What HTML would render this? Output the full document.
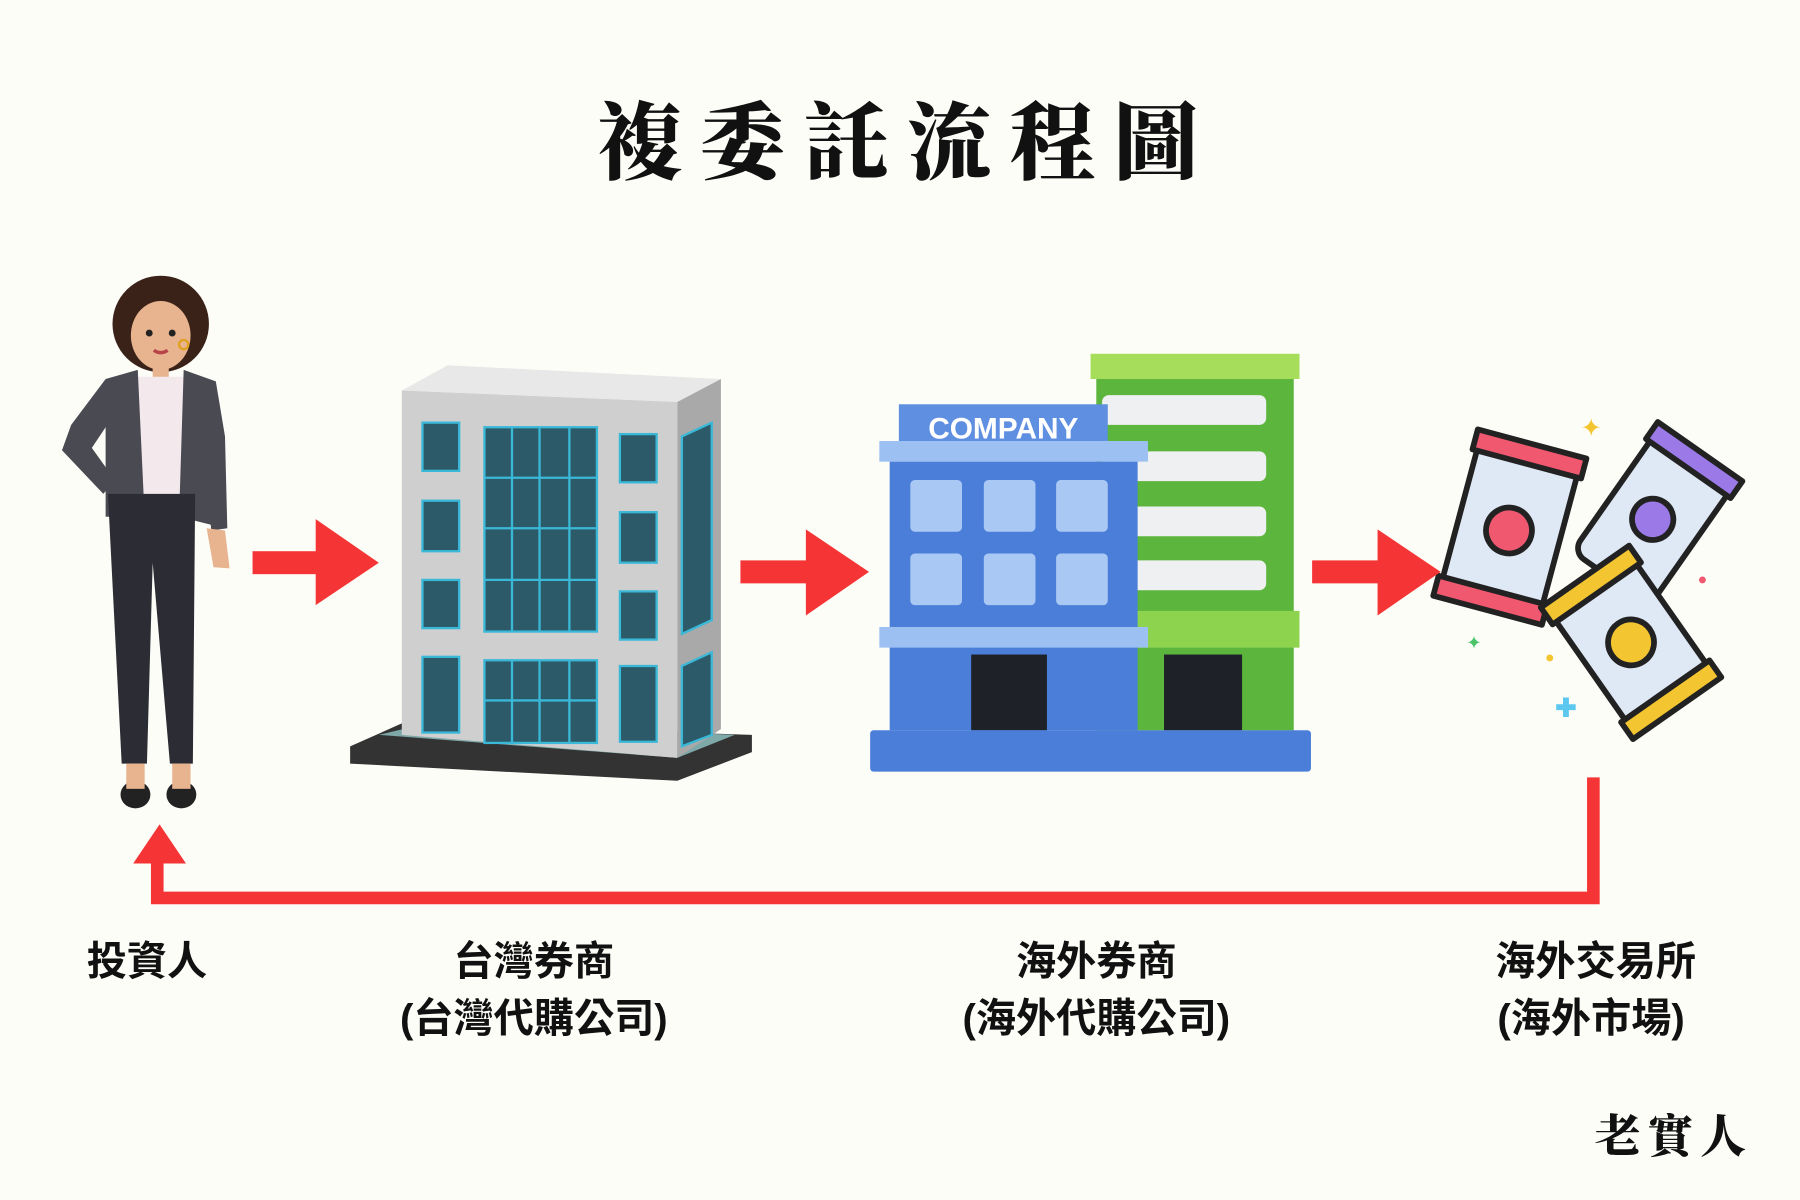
<!DOCTYPE html>
<html><head><meta charset="utf-8"><style>
html,body{margin:0;padding:0;background:#fdfdf8;}
svg{display:block}
</style></head><body>
<svg width="1800" height="1200" viewBox="0 0 1568 1045" xmlns="http://www.w3.org/2000/svg">
<rect width="1568" height="1045" fill="#fdfdf8"/>
<text x="790" y="150" text-anchor="middle" font-family="'Noto Serif CJK TC','Noto Sans CJK TC',serif" font-weight="900" font-size="74" letter-spacing="16" fill="#111">複委託流程圖</text>

<g>
<ellipse cx="140" cy="282" rx="42" ry="42" fill="#3a2218"/>
<ellipse cx="140" cy="292" rx="26" ry="30" fill="#e8b48f"/>
<path d="M114 270 Q140 245 166 272 L166 262 Q140 236 112 262Z" fill="#3a2218"/>
<circle cx="130" cy="290" r="3" fill="#222"/><circle cx="150" cy="290" r="3" fill="#222"/>
<path d="M134 305 Q140 309 146 305" stroke="#b8444a" stroke-width="3" fill="none"/>
<circle cx="160" cy="300" r="4" fill="none" stroke="#e0a020" stroke-width="2"/>
<rect x="133" y="318" width="14" height="12" fill="#e8b48f"/>
<path d="M118 328 L162 328 L158 430 L122 430Z" fill="#f3e8ec"/>
<path d="M92 330 L120 322 L126 450 L92 450 Z" fill="#4a4a52"/>
<path d="M160 322 L188 332 L196 460 L156 450 Z" fill="#4a4a52"/>
<path d="M92 330 L62 370 L54 392 L90 430 L100 418 L80 390 L96 366Z" fill="#4a4a52"/>
<path d="M188 332 L196 380 L198 460 L184 462 L178 390Z" fill="#4a4a52"/>
<path d="M180 460 L196 462 L200 495 L186 494Z" fill="#e8b48f"/>
<path d="M94 430 L170 430 L168 665 L148 665 L133 490 L128 665 L106 665Z" fill="#2c2c34"/>
<ellipse cx="118" cy="692" rx="13" ry="12" fill="#222"/>
<ellipse cx="158" cy="692" rx="13" ry="12" fill="#222"/>
<rect x="110" y="665" width="16" height="22" fill="#e8b48f"/>
<rect x="150" y="665" width="16" height="22" fill="#e8b48f"/>
</g>

<g>
<path d="M305 650 L350 630 L655 640 L655 655 L590 680 L305 665Z" fill="#333"/>
<path d="M330 640 L590 660 L640 640 L380 628Z" fill="#7fa8a8"/>
<path d="M350 340 L390 318 L628 330 L590 350Z" fill="#e8e8e8"/>
<path d="M350 340 L590 350 L590 660 L350 640Z" fill="#cfcfcf"/>
<path d="M590 350 L628 330 L628 635 L590 660Z" fill="#a9a9a9"/>
<g fill="#2d5a68" stroke="#3ab8d8" stroke-width="2">
<rect x="368" y="368" width="32" height="42"/><rect x="368" y="436" width="32" height="44"/><rect x="368" y="505" width="32" height="42"/><rect x="368" y="572" width="32" height="66"/>
<rect x="540" y="378" width="32" height="42"/><rect x="540" y="446" width="32" height="44"/><rect x="540" y="515" width="32" height="42"/><rect x="540" y="580" width="32" height="66"/>
<rect x="422" y="372" width="98" height="178"/><rect x="422" y="575" width="98" height="72"/>
<path d="M594 380 L620 368 L620 540 L594 552Z"/><path d="M594 580 L620 568 L620 640 L594 650Z"/>
</g>
<g stroke="#3ab8d8" stroke-width="2"><path d="M446 372V550M470 372V550M496 372V550M422 416H520M422 460H520M422 505H520M446 575V647M470 575V647M496 575V647M422 610H520"/></g>
</g>

<g>
<rect x="950" y="308" width="182" height="22" fill="#a6dd5a"/>
<rect x="955" y="330" width="172" height="306" fill="#5cb53c"/>
<g fill="#eef0f2"><rect x="960" y="344" width="143" height="26" rx="6"/><rect x="960" y="393" width="143" height="26" rx="6"/><rect x="960" y="441" width="143" height="26" rx="6"/><rect x="960" y="488" width="143" height="26" rx="6"/></g>
<rect x="990" y="532" width="142" height="32" fill="#8ed34e"/>
<rect x="1014" y="570" width="68" height="66" fill="#1e2228"/>
<rect x="783" y="352" width="182" height="34" fill="#5f8fe0"/>
<text x="874" y="382" text-anchor="middle" font-family="'Liberation Sans',sans-serif" font-weight="bold" font-size="26" fill="#fff">COMPANY</text>
<rect x="766" y="384" width="234" height="18" fill="#9dc0f2"/>
<rect x="775" y="402" width="216" height="234" fill="#4a7ed8"/>
<g fill="#a9c9f4"><rect x="793" y="418" width="45" height="45" rx="4"/><rect x="857" y="418" width="45" height="45" rx="4"/><rect x="920" y="418" width="45" height="45" rx="4"/><rect x="793" y="482" width="45" height="45" rx="4"/><rect x="857" y="482" width="45" height="45" rx="4"/><rect x="920" y="482" width="45" height="45" rx="4"/></g>
<rect x="766" y="546" width="234" height="18" fill="#9dc0f2"/>
<rect x="846" y="570" width="66" height="66" fill="#1e2228"/>
<rect x="758" y="636" width="384" height="36" rx="3" fill="#4a7ed8"/>
</g>

<g stroke="#222" stroke-width="5" stroke-linejoin="round">
<g transform="rotate(15 1315 460)"><rect x="1270" y="390" width="90" height="140" rx="12" fill="#dfe8f5"/><rect x="1266" y="384" width="98" height="18" fill="#f05870"/><rect x="1266" y="516" width="98" height="18" fill="#f05870"/><circle cx="1315" cy="462" r="20" fill="#f05870"/></g>
<g transform="rotate(35 1440 450)"><rect x="1400" y="385" width="82" height="130" rx="12" fill="#dfe8f5"/><rect x="1396" y="380" width="90" height="18" fill="#9b7ae8"/><circle cx="1441" cy="452" r="18" fill="#9b7ae8"/></g>
<g transform="rotate(-35 1420 560)"><rect x="1378" y="495" width="86" height="130" rx="12" fill="#dfe8f5"/><rect x="1374" y="490" width="94" height="18" fill="#f3c530"/><rect x="1374" y="612" width="94" height="18" fill="#f3c530"/><circle cx="1421" cy="560" r="20" fill="#f3c530"/></g>
</g>
<text x="1386" y="380" font-size="22" fill="#f3c530" text-anchor="middle">✦</text>
<text x="1284" y="565" font-size="16" fill="#4cc46c" text-anchor="middle">✦</text>
<circle cx="1483" cy="505" r="3" fill="#f05870"/><circle cx="1350" cy="573" r="3" fill="#f3c530"/>
<text x="1364" y="624" font-size="22" fill="#5cc8f0" text-anchor="middle" font-weight="bold">✚</text>

<g fill="#f53535">
<rect x="220" y="480" width="60" height="20"/><path d="M275 452 L330 490 L275 527Z"/>
<rect x="645" y="488" width="62" height="20"/><path d="M702 461 L757 498 L702 536Z"/>
<rect x="1143" y="488" width="62" height="20"/><path d="M1200 461 L1255 498 L1200 536Z"/>
<path d="M116 752 L139 718 L162 752Z"/>
</g>
<path d="M1388 677 V782 H137 V750" stroke="#f53535" stroke-width="11" fill="none"/>

<g font-family="'Liberation Sans','Noto Sans CJK TC',sans-serif" font-weight="bold" font-size="35" fill="#111" text-anchor="middle">
<text x="128" y="849">投資人</text>
<text x="465" y="849">台灣券商</text><text x="465" y="899">(台灣代購公司)</text>
<text x="955" y="849">海外券商</text><text x="955" y="899">(海外代購公司)</text>
<text x="1390" y="849">海外交易所</text><text x="1386" y="899">(海外市場)</text>
</g>
<text x="1458" y="1004" text-anchor="middle" font-family="'Noto Serif CJK TC',serif" font-weight="900" font-size="40" letter-spacing="6" fill="#111">老實人</text>
</svg>
</body></html>
